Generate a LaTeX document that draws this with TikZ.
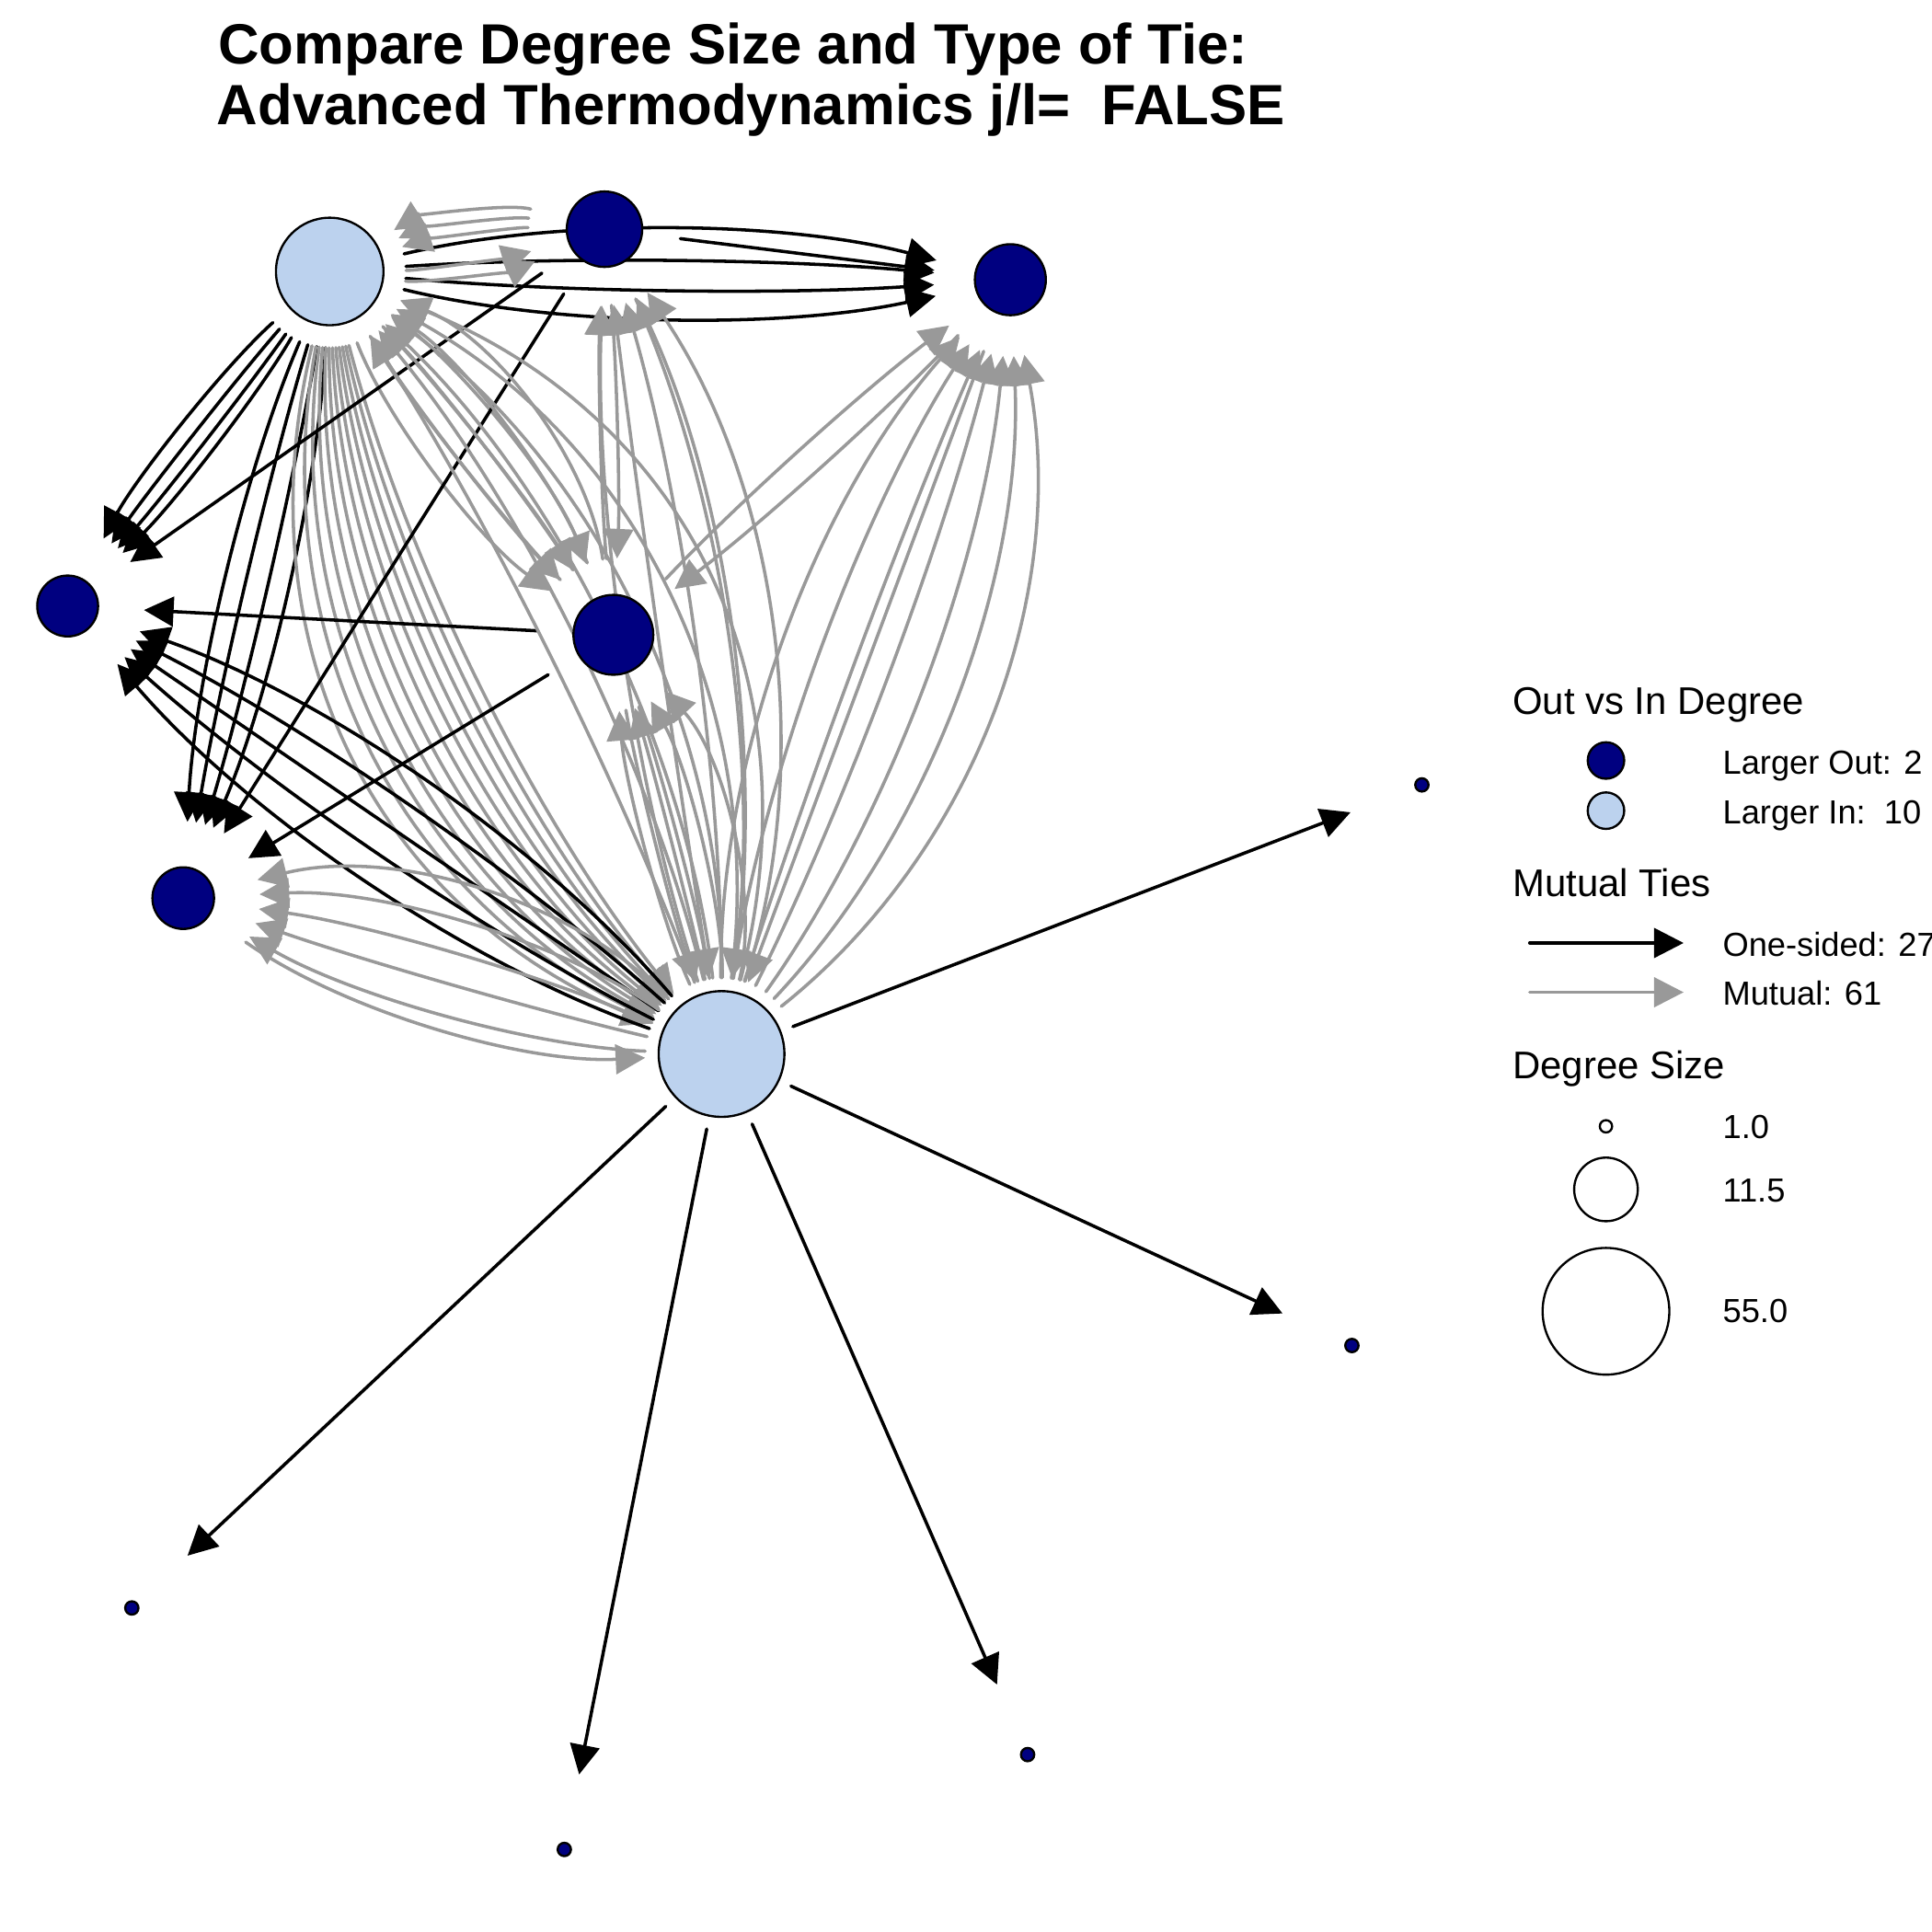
\documentclass[tikz,border=0pt]{standalone}
\usepackage{fontspec}
\setmainfont{Liberation Sans}
\usetikzlibrary{arrows.meta,calc}
\definecolor{navyv}{HTML}{000080}
\definecolor{lightv}{HTML}{BCD2EE}
\definecolor{edgegray}{HTML}{999999}
\pgfdeclarelayer{edgelayer}
\pgfsetlayers{edgelayer,main}
% quadratic-like curved edge: #1 style, #2 from, #3 to, #4 tangent angle (deg)
\newcommand\qedge[4]{%
  \pgfmathsetmacro\qa{#4}%
  \pgfmathsetmacro\qb{-1*(#4)}%
  \pgfmathsetmacro\qs{1/(3*cos(#4))}%
  \draw[#1] (#2) .. controls ($(#2.center)!\qs!\qa:(#3.center)$) and ($(#3.center)!\qs!\qb:(#2.center)$) .. (#3);%
}
\tikzset{
  vout/.style={circle, draw=black, line width=0.5pt, fill=navyv, inner sep=0pt},
  vin/.style={circle, draw=black, line width=0.5pt, fill=lightv, inner sep=0pt},
  legcirc/.style={circle, draw=black, line width=0.5pt, fill=white, inner sep=0pt},
  bedge/.style={draw=black, line width=0.75pt, line cap=round, -{Triangle[length=0.24cm,width=0.24cm]}},
  gedge/.style={draw=edgegray, line width=0.75pt, line cap=round, -{Triangle[length=0.24cm,width=0.24cm]}},
  ttl/.style={anchor=base, font=\bfseries\fontsize{13.1}{15}\selectfont},
  legtitle/.style={anchor=base west, inner sep=0pt, font=\fontsize{8.9}{10}\selectfont},
  leglabel/.style={anchor=base west, inner sep=0pt, font=\fontsize{7.7}{9}\selectfont}
}
\begin{document}
\begin{tikzpicture}[x=0.01cm, y=-0.01cm]
\useasboundingbox (0,0) rectangle (1568,1568);

% title
\node[ttl] (t1) at (595,52) {Compare Degree Size and Type of Tie:};
\node[ttl] (t2) at (609.5,101) {Advanced Thermodynamics j/l=\ \ FALSE};

% vertices (outer sep makes every edge stop 62 units from the centre)
\node[vin,  minimum size=0.872cm, outer sep=0.184cm] (N1) at (267.6,220.3) {};
\node[vout, minimum size=0.612cm, outer sep=0.314cm] (N2) at (490.6,186) {};
\node[vout, minimum size=0.576cm, outer sep=0.332cm] (N3) at (820,227) {};
\node[vout, minimum size=0.494cm, outer sep=0.373cm] (N4) at (54.9,491.8) {};
\node[vout, minimum size=0.648cm, outer sep=0.296cm] (N5) at (497.8,515.2) {};
\node[vout, minimum size=0.500cm, outer sep=0.370cm] (N6) at (148.7,728.9) {};
\node[vin,  minimum size=1.020cm, outer sep=0.110cm] (N7) at (585.6,855.4) {};
\node[vout, minimum size=0.108cm, outer sep=0.566cm] (S1) at (1154,637) {};
\node[vout, minimum size=0.108cm, outer sep=0.566cm] (S2) at (1097.2,1092) {};
\node[vout, minimum size=0.108cm, outer sep=0.566cm] (S3) at (834,1424) {};
\node[vout, minimum size=0.108cm, outer sep=0.566cm] (S4) at (458,1501) {};
\node[vout, minimum size=0.108cm, outer sep=0.566cm] (S5) at (107,1305) {};

\begin{pgfonlayer}{edgelayer}
% edges from N1
\foreach \a in {14,4.5,-4.5,-13} {\qedge{bedge}{N1}{N3}{\a}}
\foreach \a in {-10,-3,3,8} {\qedge{bedge}{N1}{N4}{\a}}
\foreach \a in {-10,-3.5,3.5,10} {\qedge{bedge}{N1}{N6}{\a}}
\foreach \a in {-8,-16} {\qedge{gedge}{N1}{N2}{\a}}
\foreach \a in {17,6,-6,-17} {\qedge{gedge}{N1}{N5}{\a}}
\foreach \a in {-12,-14.5,-17,-19.5,-22,-24.5,-27,-29.5,-32,-34.5,-37,-40} {\qedge{gedge}{N1}{N7}{\a}}
% edges from N2
\qedge{bedge}{N2}{N3}{0}
\qedge{bedge}{N2}{N4}{0}
\qedge{bedge}{N2}{N6}{0}
\foreach \a in {-10,-17,-24} {\qedge{gedge}{N2}{N1}{\a}}
\qedge{gedge}{N2}{N5}{4}
\qedge{gedge}{N2}{N7}{16}
% edges from N3
\qedge{gedge}{N3}{N5}{5}
\qedge{gedge}{N3}{N7}{0}
% edges from N5
\qedge{bedge}{N5}{N4}{0}
\qedge{bedge}{N5}{N6}{0}
\foreach \a in {-30,-18,-6,6} {\qedge{gedge}{N5}{N1}{\a}}
\qedge{gedge}{N5}{N2}{4}
\qedge{gedge}{N5}{N3}{5}
\foreach \a in {5,-5} {\qedge{gedge}{N5}{N7}{\a}}
% edges from N6
\qedge{gedge}{N6}{N7}{-19}
% edges from N7
\foreach \a in {15,7.5,0,-7.5,-15} {\qedge{bedge}{N7}{N4}{\a}}
\foreach \s in {S1,S2,S3,S4,S5} {\qedge{bedge}{N7}{\s}{0}}
\foreach \a in {-6,-13,-20,-27,-34,-41} {\qedge{gedge}{N7}{N1}{\a}}
\foreach \a in {-26,-17,-8,1,10} {\qedge{gedge}{N7}{N2}{\a}}
\foreach \a in {21,12,3,-6,-15,-23,-31} {\qedge{gedge}{N7}{N3}{\a}}
\foreach \a in {-28,-15,-2,10} {\qedge{gedge}{N7}{N5}{\a}}
\foreach \a in {-30,-19,-8,3,14} {\qedge{gedge}{N7}{N6}{\a}}
\end{pgfonlayer}

% legend
\node[legtitle] (h1) at (1227,579.6) {Out vs In Degree};
\node[vout, minimum size=0.296cm] (lc1) at (1303.4,617.2) {};
\node[leglabel] (l1) at (1397.5,628) {Larger Out: 2};
\node[vin, minimum size=0.296cm] (lc2) at (1303.4,657.9) {};
\node[leglabel] (l2) at (1397.5,668.4) {Larger In:\ \ 10};

\node[legtitle] (h2) at (1227,727.4) {Mutual Ties};
\coordinate (la1) at (1241.5,765.3);
\coordinate (la2) at (1366.4,765.3);
\draw[bedge] (la1) -- (la2);
\node[leglabel] (l3) at (1397.5,776) {One-sided: 27};
\coordinate (lb1) at (1241.5,805.3);
\coordinate (lb2) at (1366.4,805.3);
\draw[gedge] (lb1) -- (lb2);
\node[leglabel] (l4) at (1397.5,816) {Mutual: 61};

\node[legtitle] (h3) at (1227,875.7) {Degree Size};
\node[legcirc, minimum size=0.10cm] (lc3) at (1303.4,914.1) {};
\node[leglabel] (l5) at (1397.5,924.2) {1.0};
\node[legcirc, minimum size=0.516cm] (lc4) at (1303.4,965.3) {};
\node[leglabel] (l6) at (1397.5,975.8) {11.5};
\node[legcirc, minimum size=1.028cm] (lc5) at (1303.4,1064.2) {};
\node[leglabel] (l7) at (1397.5,1073.6) {55.0};
\end{tikzpicture}
\end{document}
